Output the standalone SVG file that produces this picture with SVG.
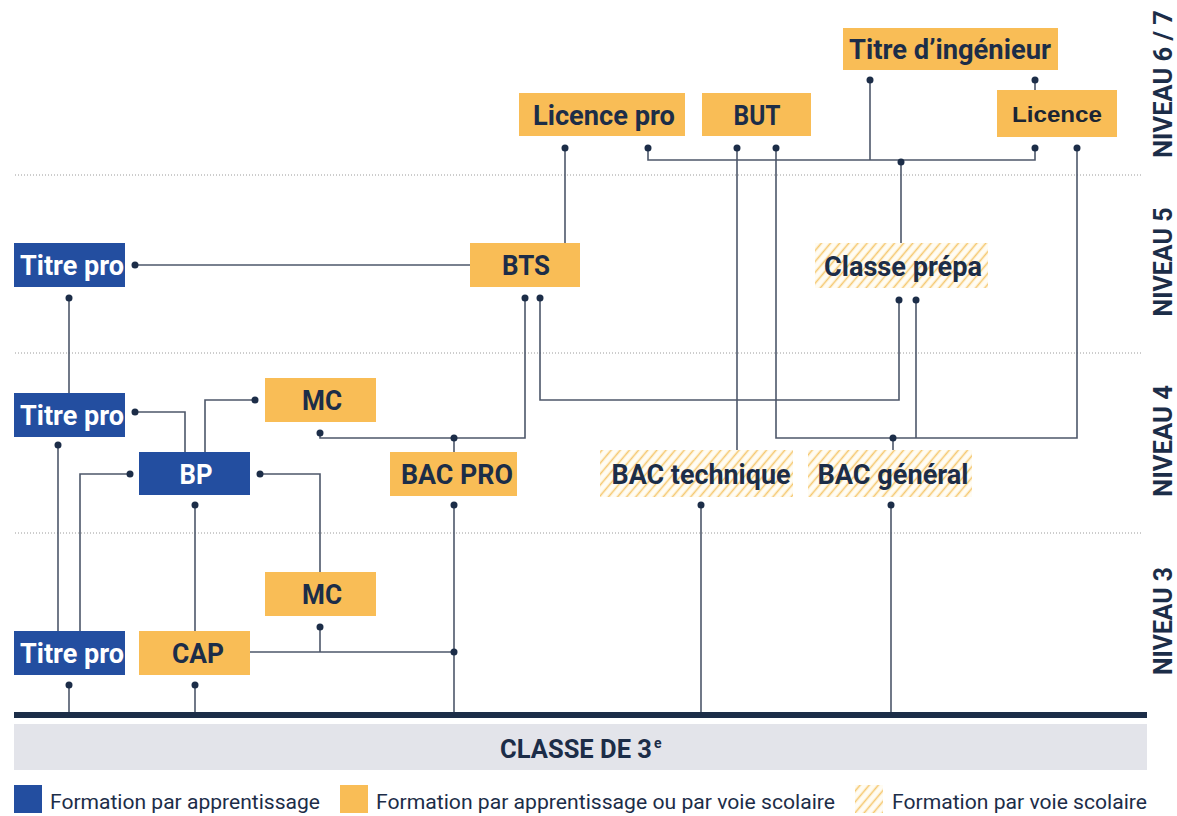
<svg xmlns="http://www.w3.org/2000/svg" width="1177" height="816" viewBox="0 0 1177 816">
<defs>
<pattern id="hatch" width="7" height="7" patternUnits="userSpaceOnUse" patternTransform="rotate(40)">
<rect width="7" height="7" fill="#fffcf3"/>
<line x1="1.5" y1="0" x2="1.5" y2="7" stroke="#f5c86f" stroke-width="1.6"/>
</pattern>
<style>
.blue{fill:#234ea0}
.orange{fill:#f9bd56}
.hat{fill:url(#hatch)}
.t{font-family:Roboto,"Liberation Sans",sans-serif;font-weight:bold;font-size:27px;fill:#1c2d48;text-anchor:middle}
.tw{font-family:Roboto,"Liberation Sans",sans-serif;font-weight:bold;font-size:27px;fill:#ffffff;text-anchor:middle}
.lv{font-family:Roboto,"Liberation Sans",sans-serif;font-weight:bold;font-size:25px;fill:#1c2d48;text-anchor:middle}
.lg{font-family:Roboto,"Liberation Sans",sans-serif;font-size:20px;fill:#1c2d48}
.c{fill:none;stroke:#4d576a;stroke-width:1.6}
.d{fill:#1c2d48}
.dot{stroke:#9a9a9a;stroke-width:1;stroke-dasharray:1 2}
</style>
</defs>
<rect width="1177" height="816" fill="#ffffff"/>

<g id="grid">
<line class="dot" x1="15" y1="175" x2="1143" y2="175"/>
<line class="dot" x1="15" y1="353" x2="1143" y2="353"/>
<line class="dot" x1="15" y1="533" x2="1143" y2="533"/>
</g>

<g id="levels">
<text class="lv" transform="translate(1172,84) rotate(-90)" textLength="148" lengthAdjust="spacingAndGlyphs">NIVEAU 6 / 7</text>
<text class="lv" transform="translate(1172,262) rotate(-90)" textLength="109" lengthAdjust="spacingAndGlyphs">NIVEAU 5</text>
<text class="lv" transform="translate(1172,441) rotate(-90)" textLength="112" lengthAdjust="spacingAndGlyphs">NIVEAU 4</text>
<text class="lv" transform="translate(1172,621) rotate(-90)" textLength="108" lengthAdjust="spacingAndGlyphs">NIVEAU 3</text>
</g>

<g id="connectors">
<path class="c" d="M870,80 V160"/>
<path class="c" d="M1035,80 V90"/>
<path class="c" d="M648,148 V160 H1035 V148"/>
<path class="c" d="M901,162 V243"/>
<path class="c" d="M565,148 V243"/>
<path class="c" d="M737,148 V450"/>
<path class="c" d="M776,148 V438 H1077 V148"/>
<path class="c" d="M916,300 V438"/>
<path class="c" d="M893,438 V450"/>
<path class="c" d="M540,298 V400 H899 V300"/>
<path class="c" d="M525,298 V438 H320 V433"/>
<path class="c" d="M454,438 V452"/>
<path class="c" d="M135,265 H470"/>
<path class="c" d="M69,298 V393"/>
<path class="c" d="M135,412 H185 V452"/>
<path class="c" d="M255,400 H205 V452"/>
<path class="c" d="M58,445 V631"/>
<path class="c" d="M130,474 H80 V631"/>
<path class="c" d="M260,474 H320 V572"/>
<path class="c" d="M195,505 V631"/>
<path class="c" d="M454,505 V712"/>
<path class="c" d="M250,652 H454"/>
<path class="c" d="M320,627 V652"/>
<path class="c" d="M701,505 V712"/>
<path class="c" d="M891,505 V712"/>
<path class="c" d="M69,685 V713"/>
<path class="c" d="M195,685 V713"/>
<g class="d">
<circle cx="870" cy="80" r="3.5"/><circle cx="1035" cy="80" r="3.5"/>
<circle cx="565" cy="148" r="3.5"/><circle cx="648" cy="148" r="3.5"/>
<circle cx="737" cy="148" r="3.5"/><circle cx="776" cy="148" r="3.5"/>
<circle cx="1035" cy="148" r="3.5"/><circle cx="1077" cy="148" r="3.5"/>
<circle cx="901" cy="162" r="3.5"/>
<circle cx="135" cy="265" r="3.5"/>
<circle cx="69" cy="298" r="3.5"/>
<circle cx="525" cy="298" r="3.5"/><circle cx="540" cy="298" r="3.5"/>
<circle cx="899" cy="300" r="3.5"/><circle cx="916" cy="300" r="3.5"/>
<circle cx="135" cy="412" r="3.5"/><circle cx="255" cy="400" r="3.5"/>
<circle cx="320" cy="433" r="3.5"/><circle cx="454" cy="438" r="3.5"/>
<circle cx="893" cy="438" r="3.5"/>
<circle cx="58" cy="445" r="3.5"/>
<circle cx="130" cy="474" r="3.5"/><circle cx="260" cy="474" r="3.5"/>
<circle cx="195" cy="505" r="3.5"/><circle cx="454" cy="505" r="3.5"/>
<circle cx="701" cy="505" r="3.5"/><circle cx="891" cy="505" r="3.5"/>
<circle cx="320" cy="627" r="3.5"/><circle cx="454" cy="652" r="3.5"/>
<circle cx="69" cy="685" r="3.5"/><circle cx="195" cy="685" r="3.5"/>
</g>
</g>

<g id="titre-ingenieur"><rect class="orange" x="843" y="28" width="215" height="42"/><text class="t" x="950" y="59" textLength="202" lengthAdjust="spacingAndGlyphs">Titre d’ingénieur</text></g>
<g id="licence-pro"><rect class="orange" x="519" y="93" width="166" height="43"/><text class="t" x="604" y="125" textLength="142" lengthAdjust="spacingAndGlyphs">Licence pro</text></g>
<g id="but"><rect class="orange" x="702" y="93" width="109" height="43"/><text class="t" x="757" y="125" textLength="47" lengthAdjust="spacingAndGlyphs">BUT</text></g>
<g id="licence"><rect class="orange" x="997" y="90" width="120" height="47"/><text x="1057" y="122" text-anchor="middle" font-family="'Liberation Sans',Arial,sans-serif" font-weight="bold" font-size="22" fill="#1c2533" textLength="90" lengthAdjust="spacingAndGlyphs">Licence</text></g>

<g id="titre-pro-5"><rect class="blue" x="14" y="243" width="111" height="44"/><text class="tw" x="72" y="275" textLength="104" lengthAdjust="spacingAndGlyphs">Titre pro</text></g>
<g id="bts"><rect class="orange" x="470" y="243" width="110" height="44"/><text class="t" x="526" y="275" textLength="48" lengthAdjust="spacingAndGlyphs">BTS</text></g>
<g id="classe-prepa"><rect class="hat" x="815" y="243" width="173" height="45"/><text class="t" x="903" y="276" textLength="158" lengthAdjust="spacingAndGlyphs">Classe prépa</text></g>

<g id="titre-pro-4"><rect class="blue" x="14" y="393" width="111" height="44"/><text class="tw" x="72" y="425" textLength="104" lengthAdjust="spacingAndGlyphs">Titre pro</text></g>
<g id="mc-4"><rect class="orange" x="265" y="378" width="111" height="44"/><text class="t" x="322" y="410" textLength="40" lengthAdjust="spacingAndGlyphs">MC</text></g>
<g id="bp"><rect class="blue" x="139" y="452" width="111" height="43"/><text class="tw" x="196" y="484" textLength="33" lengthAdjust="spacingAndGlyphs">BP</text></g>
<g id="bac-pro"><rect class="orange" x="390" y="452" width="127" height="44"/><text class="t" x="457" y="484" textLength="112" lengthAdjust="spacingAndGlyphs">BAC PRO</text></g>
<g id="bac-technique"><rect class="hat" x="600" y="450" width="193" height="47"/><text class="t" x="701" y="484" textLength="179" lengthAdjust="spacingAndGlyphs">BAC technique</text></g>
<g id="bac-general"><rect class="hat" x="808" y="450" width="164" height="47"/><text class="t" x="893" y="484" textLength="151" lengthAdjust="spacingAndGlyphs">BAC général</text></g>

<g id="mc-3"><rect class="orange" x="265" y="572" width="111" height="44"/><text class="t" x="322" y="604" textLength="40" lengthAdjust="spacingAndGlyphs">MC</text></g>
<g id="titre-pro-3"><rect class="blue" x="14" y="631" width="111" height="44"/><text class="tw" x="72" y="663" textLength="104" lengthAdjust="spacingAndGlyphs">Titre pro</text></g>
<g id="cap"><rect class="orange" x="139" y="631" width="111" height="44"/><text class="t" x="198" y="663" textLength="52" lengthAdjust="spacingAndGlyphs">CAP</text></g>

<g id="classe-3e">
<rect x="14" y="712" width="1133" height="6" fill="#1c2d48"/>
<rect x="14" y="724" width="1133" height="46" fill="#e3e4ea"/>
<text class="t" x="576" y="758" style="font-size:26px" textLength="152" lengthAdjust="spacingAndGlyphs">CLASSE DE 3</text>
<text class="t" x="654" y="748" style="font-size:14px;text-anchor:start">e</text>
</g>

<g id="legend">
<rect class="blue" x="14" y="785" width="28" height="28"/>
<text class="lg" x="50" y="809" textLength="270" lengthAdjust="spacingAndGlyphs">Formation par apprentissage</text>
<rect class="orange" x="340" y="785" width="28" height="28"/>
<text class="lg" x="376" y="809" textLength="459" lengthAdjust="spacingAndGlyphs">Formation par apprentissage ou par voie scolaire</text>
<rect class="hat" x="855" y="785" width="28" height="28"/>
<text class="lg" x="892" y="809" textLength="255" lengthAdjust="spacingAndGlyphs">Formation par voie scolaire</text>
</g>
</svg>
